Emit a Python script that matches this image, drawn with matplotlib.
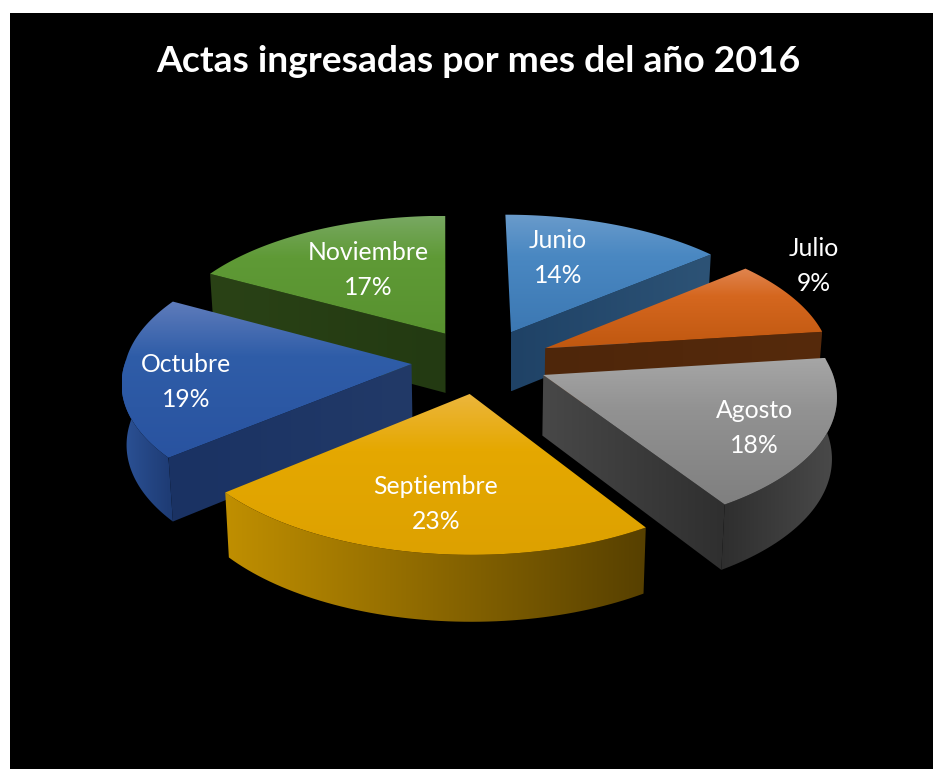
import numpy as np
import matplotlib
matplotlib.use('Agg')
import matplotlib.pyplot as plt
from matplotlib.patches import Polygon, Rectangle
from matplotlib.colors import to_rgb

title = "Actas ingresadas por mes del año 2016"
months = ["Junio", "Julio", "Agosto", "Septiembre", "Octubre", "Noviembre"]
shares = [14, 9, 18, 23, 19, 17]

# gradient stops per slice: top face (light to base), cut face, outer wall
top_cols = [["#6a9bcb", "#4a88c2", "#3c78b3"], ["#e08550", "#d5671f", "#c05810"],
            ["#a6a6a6", "#929292", "#7f7f7f"], ["#ecb63c", "#e5a800", "#dda100"],
            ["#5f7cbb", "#2f5da8", "#2953a0"], ["#78a862", "#5f9a36", "#58922f"]]
cut_cols = [["#1f4266", "#2d5376"], ["#4e260a", "#562a0c"], ["#484848", "#2f2f2f"],
            ["#4a3500", "#4a3500"], ["#1a3263", "#223a68"], ["#2a4216", "#233a12"]]
wall_cols = [["#1f4266", "#1f4266"], ["#4e260a", "#4e260a"], ["#2e2e2e", "#4a4a4a"],
             ["#c08f00", "#574000"], ["#2c5296", "#1d3a72"], ["#2a4216", "#2a4216"]]
# label centres in pixels
label_xy = [(558, 258), (814, 266), (754, 428), (436, 504), (186, 382), (368, 270)]
draw_order = [5, 0, 1, 4, 2, 3]
# small per-slice x nudges, pixels
nudge = [3, 3, 0, 0, 0, 0]

# projection of the pie, fitted to the picture
CX, CY = 480, 361
RX, RY = 286, 135
EXPLODE = 0.24
PERSP_BACK = 0.09
PERSP_FRONT = 0.13
SHEAR = -3
DEPTH = 60
SHRINK = 0.014


def project(x, y, bottom=False):
    s = 1 - np.where(y > 0, PERSP_BACK, PERSP_FRONT) * y
    if bottom:
        return CX + RX * x * s * (1 - SHRINK) + SHEAR * y, CY - RY * y * s * (1 - SHRINK) + DEPTH * s
    return CX + RX * x * s + SHEAR * y, CY - RY * y * s


def grad_fill(ax, pts, cols, vertical, z):
    # gradient image clipped to a polygon
    pts = np.asarray(pts)
    rgb = np.array([to_rgb(c) for c in cols])
    t = np.linspace(0, 1, 256)
    pos = np.linspace(0, 1, len(cols)) if len(cols) != 3 else [0, 0.35, 1]
    line = np.stack([np.interp(t, pos, rgb[:, i]) for i in range(3)], axis=-1)
    img = line[:, None, :] if vertical else line[None, :, :]
    x0, x1, y0, y1 = pts[:, 0].min(), pts[:, 0].max(), pts[:, 1].min(), pts[:, 1].max()
    im = ax.imshow(img, extent=(x0, x1, y1, y0), aspect='auto', zorder=z, interpolation='bilinear')
    patch = Polygon(pts, closed=True, transform=ax.transData, fc='none', ec='none')
    ax.add_patch(patch)
    im.set_clip_path(patch)


fig = plt.figure(figsize=(9.33, 7.69), dpi=100, facecolor='white')
ax = fig.add_axes([0, 0, 1, 1])
ax.set_xlim(0, 933)
ax.set_ylim(769, 0)
ax.axis('off')
ax.add_patch(Rectangle((10, 13), 923, 756, fc='black', ec='none', zorder=0))

fracs = np.array(shares) / sum(shares)
edges = np.concatenate([[0], np.cumsum(fracs)]) * 2 * np.pi

z = 1
for i in draw_order:
    a0, a1 = edges[i], edges[i + 1]
    mid = (a0 + a1) / 2
    ox, oy = EXPLODE * np.sin(mid), EXPLODE * np.cos(mid)
    shift = np.array([nudge[i], 0])
    th = np.linspace(a0, a1, 80)

    apex_t = np.array(project(ox, oy), dtype=float) + shift
    apex_b = np.array(project(ox, oy, bottom=True), dtype=float) + shift

    # the two cut faces, skipped when they look away from us
    for ang, sign in ((a0, 1), (a1, -1)):
        if i == 0 and sign == 1:  # junio's left face is edge-on in the picture
            continue
        ex, ey = ox + np.sin(ang), oy + np.cos(ang)
        quad = np.array([apex_t, np.array(project(ex, ey), dtype=float) + shift,
                         np.array(project(ex, ey, bottom=True), dtype=float) + shift, apex_b])
        xs, ys = quad[:, 0], quad[:, 1]
        area = 0.5 * np.sum(xs * np.roll(ys, -1) - np.roll(xs, -1) * ys)
        if area * sign < 0:
            grad_fill(ax, quad, cut_cols[i], False, z)
            z += 1

    # outer wall, front part only
    lo, hi = max(a0, np.radians(88)), min(a1, np.radians(272))
    if hi > lo:
        tw = np.linspace(lo, hi, 60)
        wx, wy = ox + np.sin(tw), oy + np.cos(tw)
        upper = np.column_stack(project(wx, wy)) + shift
        lower = np.column_stack(project(wx, wy, bottom=True)) + shift
        grad_fill(ax, np.vstack([upper, lower[::-1]]), wall_cols[i], False, z)
        z += 1

    # top face
    arc = np.column_stack(project(ox + np.sin(th), oy + np.cos(th))) + shift
    top = np.vstack([[apex_t], arc])
    grad_fill(ax, top, top_cols[i], True, z)
    z += 1

for name, share, (lx, ly) in zip(months, shares, label_xy):
    ax.text(lx, ly, f"{name}\n{share}%", color='white', ha='center', va='center',
            fontsize=17.8, family='Lato', linespacing=1.6, zorder=100)

ax.text(478, 61, title, color='white', ha='center', va='center', fontsize=26.8,
        fontweight='bold', family='Lato', zorder=100)

fig.savefig('out.png', dpi=100, facecolor='white')
